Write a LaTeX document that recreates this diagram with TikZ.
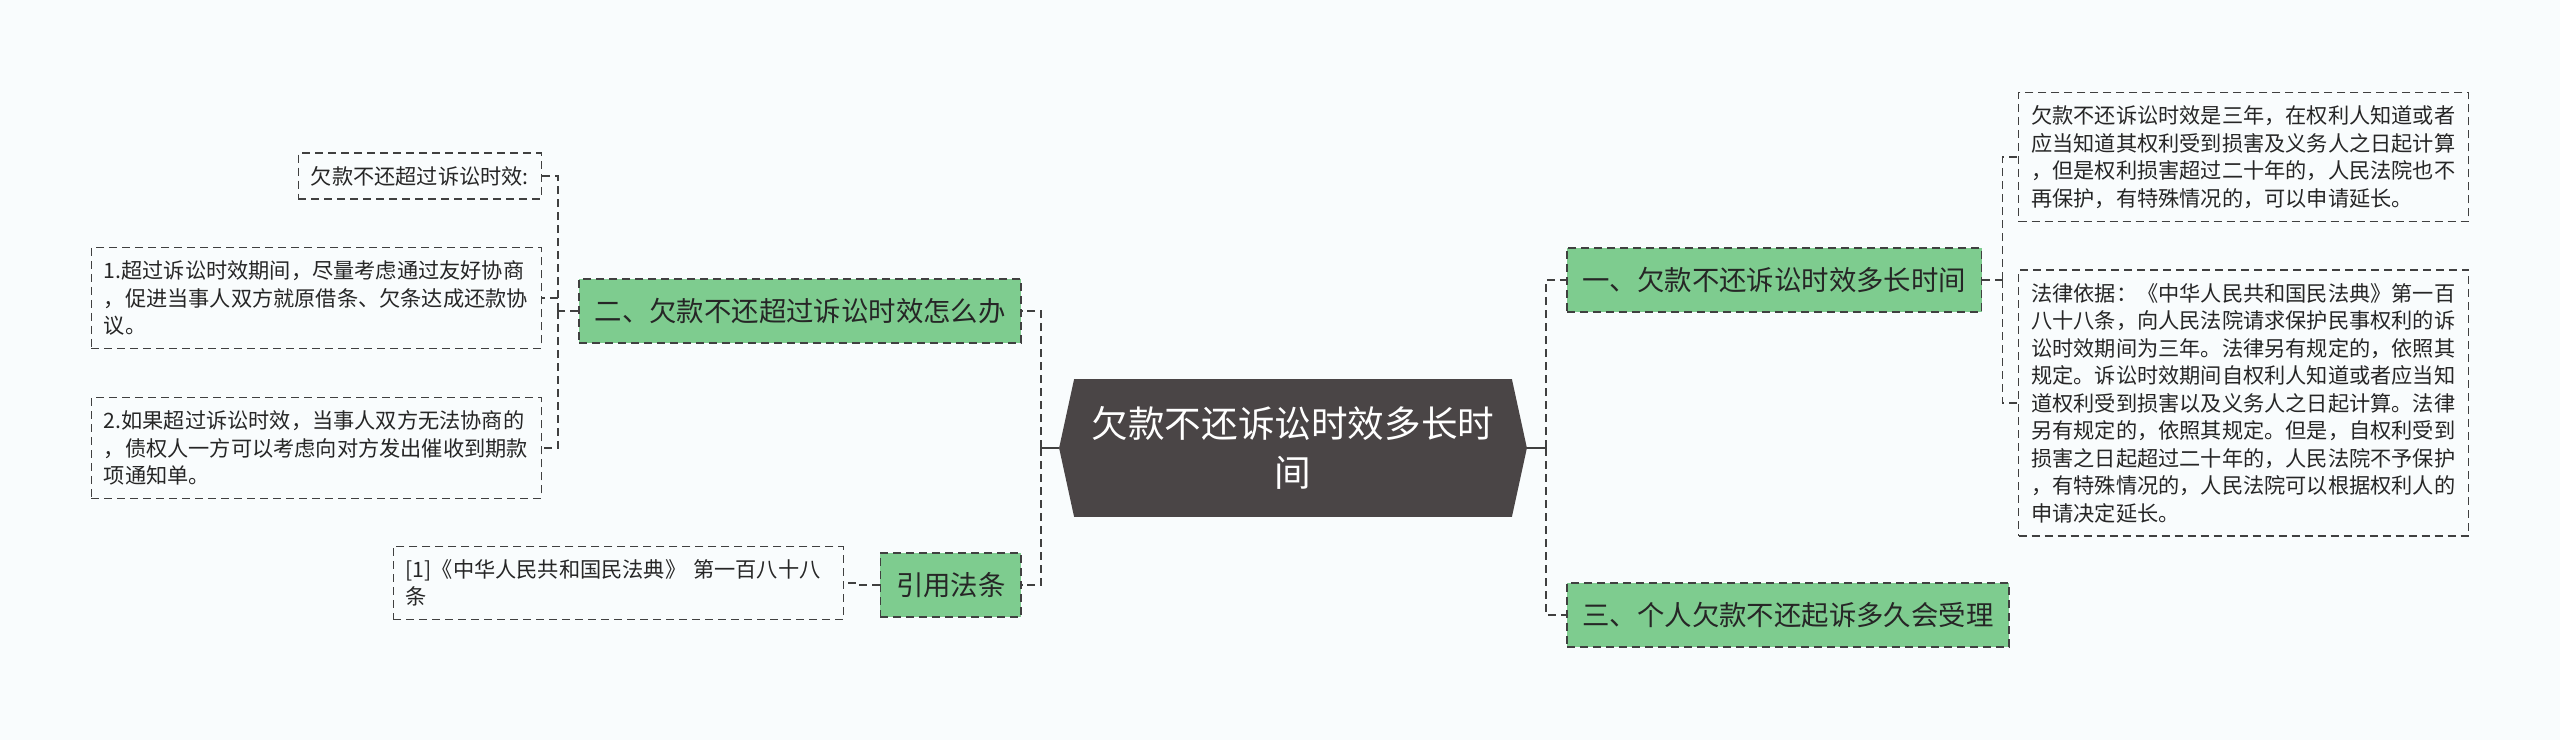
\documentclass[tikz,border=0pt]{standalone}
\usepackage{fontspec}
\usepackage{tikz}
\usetikzlibrary{math, backgrounds}
\newfontfamily\cjk{Noto Sans CJK SC}
\definecolor{mybg}{RGB}{249, 252, 253}
\definecolor{mygreen}{RGB}{126, 204, 143}
\definecolor{mygray}{RGB}{74, 69, 70}
\definecolor{myline}{RGB}{64, 64, 64}

\begin{document}
\begin{tikzpicture}[x=0.5pt, y=-0.5pt, font=\cjk,
  topic/.style={draw=myline, dash pattern=on 4pt off 2.5pt, line width=0.8pt, fill=mygreen, text=black!85, font={\cjk\fontsize{13.7}{16}\selectfont}, inner xsep=7.8pt, minimum height=32pt},
  leaf/.style={draw=myline, dash pattern=on 4pt off 2.5pt, line width=0.7pt, text=black!85, font={\cjk\fontsize{10.6}{13.75}\selectfont}, align=left, inner xsep=6.25pt, inner ysep=6.5pt},
  wide/.style={leaf, text width=212.5pt},
  link/.style={draw=myline, line width=0.8pt, dash pattern=on 4pt off 2.5pt},
  stub/.style={draw=myline, line width=1.4pt}
]
\tikzmath{
\W=2560;
\H=740;
\cx=1293;
\cy=448;
}
\useasboundingbox (0,0) rectangle (\W,\H);

%root
\node[minimum width=233.5pt, minimum height=68.5pt, align=center, text=white, font={\cjk\fontsize{18.3}{24.5}\selectfont}] (root) at (\cx,\cy) {欠款不还诉讼时效多长时\\间};
\begin{scope}[on background layer]
\fill[mybg] (0,0) rectangle (\W,\H);
\fill[mygray] ([xshift=7.5pt]root.north west) -- ([xshift=-7.5pt]root.north east) -- (root.east) -- ([xshift=-7.5pt]root.south east) -- ([xshift=7.5pt]root.south west) -- (root.west) -- cycle;
\end{scope}

%topics
\node[topic, anchor=west] (one) at (1566,280) {一、欠款不还诉讼时效多长时间};
\node[topic, anchor=west] (three) at (1566,615) {三、个人欠款不还起诉多久会受理};
\node[topic, anchor=east] (two) at (1022,311) {二、欠款不还超过诉讼时效怎么办};
\node[topic, anchor=east] (cite) at (1022,585) {引用法条};

%leaves
\node[leaf, anchor=east] (t0) at (542,176) {欠款不还超过诉讼时效:};
\node[wide, anchor=east] (b1) at (542,298) {1.超过诉讼时效期间，尽量考虑通过友好协商\\，促进当事人双方就原借条、欠条达成还款协\\议。};
\node[wide, anchor=east] (b2) at (542,448) {2.如果超过诉讼时效，当事人双方无法协商的\\，债权人一方可以考虑向对方发出催收到期款\\项通知单。};
\node[wide, anchor=east] (ref) at (844,583) {[1]《中华人民共和国民法典》 第一百八十八\\条};
\node[wide, anchor=west] (r1) at (2018,157) {欠款不还诉讼时效是三年，在权利人知道或者\\应当知道其权利受到损害及义务人之日起计算\\，但是权利损害超过二十年的，人民法院也不\\再保护，有特殊情况的，可以申请延长。};
\node[wide, anchor=west] (r2) at (2018,403) {法律依据：《中华人民共和国民法典》第一百\\八十八条，向人民法院请求保护民事权利的诉\\讼时效期间为三年。法律另有规定的，依照其\\规定。诉讼时效期间自权利人知道或者应当知\\道权利受到损害以及义务人之日起计算。法律\\另有规定的，依照其规定。但是，自权利受到\\损害之日起超过二十年的，人民法院不予保护\\，有特殊情况的，人民法院可以根据权利人的\\申请决定延长。};

%links
\draw[stub] (root.west) -- ++(-9pt,0) coordinate (jl);
\draw[stub] (root.east) -- ++(9.5pt,0) coordinate (jr);
\foreach \c in {two, cite}{
  \draw[link] (jl) |- (\c.east);
}
\foreach \c in {one, three}{
  \draw[link] (jr) |- (\c.west);
}
\draw[link] (one.east) -- ++(10pt,0) coordinate (j1);
\foreach \c in {r1, r2}{
  \draw[link] (j1) |- (\c.west);
}
\draw[link] (two.west) -- ++(-10pt,0) coordinate (j2);
\foreach \c in {t0, b1, b2}{
  \draw[link] (j2) |- (\c.east);
}
\draw[link] (cite.west) -- ++(-10pt,0) coordinate (j3) |- (ref.east);

\end{tikzpicture}
\end{document}
